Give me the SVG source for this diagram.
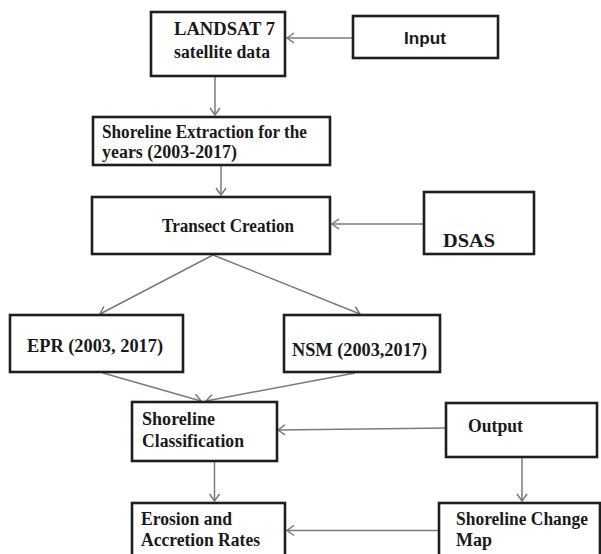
<svg xmlns="http://www.w3.org/2000/svg" width="601" height="554" viewBox="0 0 601 554">
<style>
.box{fill:#fff;stroke:#1e1e1e;stroke-width:2.6}
.t{font-family:"Liberation Serif","Times New Roman",serif;font-weight:bold;font-size:18px;fill:#1a1a1a}
.s{font-family:"Liberation Sans",Arial,sans-serif;font-weight:bold;font-size:17px;fill:#1a1a1a}
.c{fill:none;stroke:#7a7a7a;stroke-width:1.5}
</style>
<defs>
<marker id="arr" markerWidth="10" markerHeight="12" refX="8" refY="6" orient="auto" markerUnits="userSpaceOnUse">
<path d="M1,1 L8,6 L1,11" fill="none" stroke="#7a7a7a" stroke-width="1.5"/>
</marker>
</defs>
<rect width="601" height="554" fill="#fff"/>
<g id="connectors">
<line class="c" x1="353" y1="38" x2="287" y2="38" marker-end="url(#arr)"/>
<line class="c" x1="215" y1="77" x2="215" y2="115" marker-end="url(#arr)"/>
<line class="c" x1="221" y1="166" x2="221" y2="195" marker-end="url(#arr)"/>
<line class="c" x1="424" y1="224" x2="332" y2="224" marker-end="url(#arr)"/>
<line class="c" x1="213" y1="255" x2="100" y2="314" marker-end="url(#arr)"/>
<line class="c" x1="213" y1="255" x2="360" y2="314" marker-end="url(#arr)"/>
<line class="c" x1="103" y1="373" x2="201" y2="401" marker-end="url(#arr)"/>
<line class="c" x1="355" y1="373" x2="206" y2="401" marker-end="url(#arr)"/>
<line class="c" x1="446" y1="428" x2="278" y2="430" marker-end="url(#arr)"/>
<line class="c" x1="214.5" y1="462" x2="214.5" y2="501" marker-end="url(#arr)"/>
<line class="c" x1="522" y1="458" x2="522" y2="501" marker-end="url(#arr)"/>
<line class="c" x1="439" y1="530.5" x2="287" y2="530.5" marker-end="url(#arr)"/>
</g>
<g id="landsat">
<rect class="box" x="151" y="12" width="134" height="64"/>
<text class="t" x="174" y="35" textLength="101" lengthAdjust="spacingAndGlyphs">LANDSAT 7</text>
<text class="t" x="174" y="58" textLength="96" lengthAdjust="spacingAndGlyphs">satellite data</text>
</g>
<g id="input">
<rect class="box" x="353" y="16" width="145" height="42"/>
<text class="s" x="404" y="44" textLength="42" lengthAdjust="spacingAndGlyphs">Input</text>
</g>
<g id="extraction">
<rect class="box" x="93" y="117" width="237" height="48"/>
<text class="t" x="102" y="138" textLength="205" lengthAdjust="spacingAndGlyphs">Shoreline Extraction for the</text>
<text class="t" x="102" y="158" textLength="135" lengthAdjust="spacingAndGlyphs">years (2003-2017)</text>
</g>
<g id="transect">
<rect class="box" x="92" y="197" width="238" height="57"/>
<text class="t" x="162" y="232" textLength="132" lengthAdjust="spacingAndGlyphs">Transect Creation</text>
</g>
<g id="dsas">
<rect class="box" x="424" y="192" width="110" height="62"/>
<text class="t" x="443" y="247" font-size="20" textLength="52" lengthAdjust="spacingAndGlyphs">DSAS</text>
</g>
<g id="epr">
<rect class="box" x="10" y="315" width="173" height="57"/>
<text class="t" x="27" y="352" textLength="136" lengthAdjust="spacingAndGlyphs">EPR (2003, 2017)</text>
</g>
<g id="nsm">
<rect class="box" x="284" y="315" width="156" height="57"/>
<text class="t" x="292" y="356" textLength="135" lengthAdjust="spacingAndGlyphs">NSM (2003,2017)</text>
</g>
<g id="classification">
<rect class="box" x="132" y="402" width="145" height="59"/>
<text class="t" x="142" y="425" textLength="73" lengthAdjust="spacingAndGlyphs">Shoreline</text>
<text class="t" x="142" y="447" textLength="102" lengthAdjust="spacingAndGlyphs">Classification</text>
</g>
<g id="output">
<rect class="box" x="446" y="403" width="151" height="54"/>
<text class="t" x="468" y="432" textLength="55" lengthAdjust="spacingAndGlyphs">Output</text>
</g>
<g id="erosion">
<rect class="box" x="132" y="503" width="153" height="60"/>
<text class="t" x="141" y="525" textLength="91" lengthAdjust="spacingAndGlyphs">Erosion and</text>
<text class="t" x="141" y="546" textLength="119" lengthAdjust="spacingAndGlyphs">Accretion Rates</text>
</g>
<g id="changemap">
<rect class="box" x="439" y="503" width="161" height="60"/>
<text class="t" x="456" y="525" textLength="132" lengthAdjust="spacingAndGlyphs">Shoreline Change</text>
<text class="t" x="456" y="546" textLength="36" lengthAdjust="spacingAndGlyphs">Map</text>
</g>
</svg>
